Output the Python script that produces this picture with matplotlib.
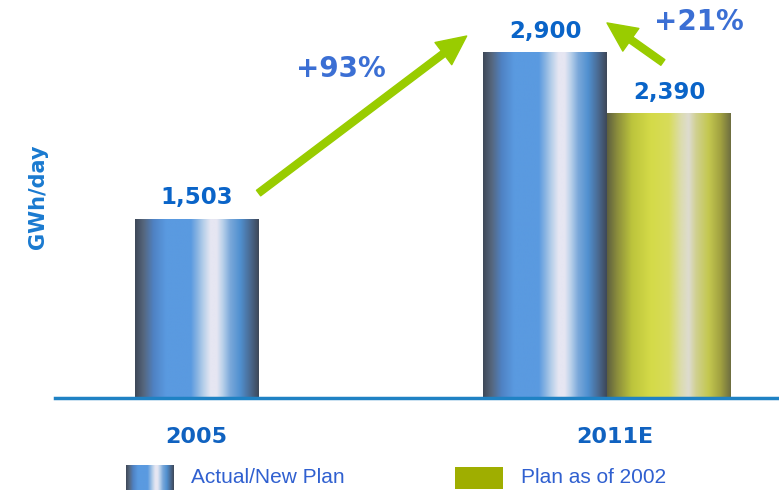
import numpy as np
import matplotlib.pyplot as plt
from matplotlib.colors import LinearSegmentedColormap

categories = ['2005', '2011E']
actual_vals = [1503, 2900]          # Actual / New Plan
plan_vals = [2390]                  # Plan as of 2002 (2011E only)
growth_labels = ['+93%', '+21%']
legend_labels = ['Actual/New Plan', 'Plan as of 2002']

# cylinder-like shading for the bars
blue_cmap = LinearSegmentedColormap.from_list('blue_tube', [
    (0.00, '#3e4858'), (0.07, '#56677e'), (0.15, '#4f82c4'),
    (0.25, '#5a9ae0'), (0.45, '#5a9ae0'), (0.50, '#86b2e2'),
    (0.55, '#b4cee9'), (0.61, '#e6e6f2'), (0.66, '#e6e6f2'),
    (0.71, '#b8d0ea'), (0.77, '#7aa8da'), (0.85, '#5090d0'),
    (0.93, '#4a6a92'), (1.00, '#3e4858')])
green_cmap = LinearSegmentedColormap.from_list('green_tube', [
    (0.00, '#5e6040'), (0.08, '#8a8c3c'), (0.20, '#bcc43c'),
    (0.35, '#d4da48'), (0.50, '#d8dc5a'), (0.60, '#dcdcb0'),
    (0.66, '#dedcd0'), (0.72, '#d0d090'), (0.82, '#c4c850'),
    (0.92, '#a0a040'), (1.00, '#6e6e40')])

W = 0.302
grad = np.linspace(0, 1, 256).reshape(1, -1)


def tube_bar(ax, x, h, cmap):
    ax.bar(x, h, W, color='none', edgecolor='none')
    ax.imshow(grad, cmap=cmap, aspect='auto', interpolation='bilinear',
              extent=[x - W / 2, x + W / 2, 0, h], zorder=2)


fig = plt.figure(figsize=(7.79, 4.90), dpi=100)
ax = fig.add_axes([55 / 779, 92 / 490, 724 / 779, 398 / 490])

x_actual = [0, 1 - W / 2]
x_plan = [1 + W / 2]
for x, v in zip(x_actual, actual_vals):
    tube_bar(ax, x, v, blue_cmap)
for x, v in zip(x_plan, plan_vals):
    tube_bar(ax, x, v, green_cmap)

ax.set_xlim(-0.345, 1.419)
ax.set_ylim(0, 3345)

# value labels
for x, v in zip(x_actual + x_plan, actual_vals + plan_vals):
    ax.text(x, v + 85, f'{v:,}', ha='center', va='bottom', fontsize=16.5,
            fontweight='bold', color='#0a64c8')

# growth arrows
arrow_kw = dict(arrowstyle='simple,head_length=1.05,head_width=1.0,tail_width=0.25',
                color='#99cc00', mutation_scale=20, shrinkA=0, shrinkB=0)
ax.annotate('', xy=(1 - W - 0.04, actual_vals[1] * 1.049),
            xytext=(W / 2, actual_vals[0] * 1.146), arrowprops=arrow_kw)
ax.annotate('', xy=(1.0, actual_vals[1] * 1.087),
            xytext=(x_plan[0] - 0.015, plan_vals[0] * 1.18), arrowprops=arrow_kw)
ax.text(0.352, 2765, growth_labels[0], ha='center', va='center', fontsize=20,
        fontweight='bold', color='#3b6fd4')
ax.text(1.224, 3160, growth_labels[1], ha='center', va='center', fontsize=20,
        fontweight='bold', color='#3b6fd4')

ax.axhline(0, color='#1f82c4', lw=2.5, clip_on=False, zorder=3)
for s in ax.spines.values():
    s.set_visible(False)
ax.set_yticks([])
ax.set_xticks([0, 1.02])
ax.set_xticklabels(categories, fontsize=16, fontweight='bold', color='#1062c0')
ax.tick_params(axis='x', length=0, pad=21)

fig.text(38 / 779, 1 - 197 / 490, 'GWh/day', rotation=90, ha='center', va='center',
         fontsize=15, fontweight='bold', color='#1a7ad0')

# legend
lax1 = fig.add_axes([126 / 779, 0, 48 / 779, 25 / 490])
lax1.imshow(grad, cmap=blue_cmap, aspect='auto', interpolation='bilinear')
lax1.axis('off')
lax2 = fig.add_axes([455 / 779, 1 / 490, 48 / 779, 22 / 490])
lax2.set_facecolor('#9fae00')
lax2.set_xticks([])
lax2.set_yticks([])
for s in lax2.spines.values():
    s.set_visible(False)
fig.text(191 / 779, 1 - 477 / 490, legend_labels[0], ha='left', va='center',
         fontsize=15, family='Liberation Sans', color='#3060d0')
fig.text(521 / 779, 1 - 477 / 490, legend_labels[1], ha='left', va='center',
         fontsize=15, family='Liberation Sans', color='#3060d0')

fig.savefig('out.png', dpi=100)
